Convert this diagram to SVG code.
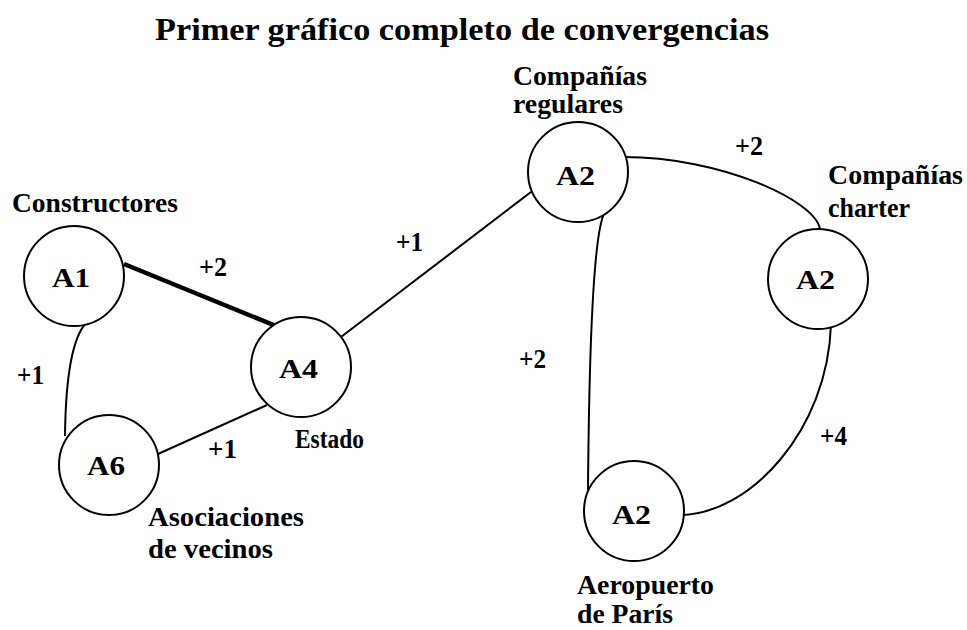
<svg xmlns="http://www.w3.org/2000/svg" width="967" height="630" viewBox="0 0 967 630">
<style>
  .t { font-family: "Liberation Serif", "Times New Roman", serif; font-weight: bold; font-size: 26.5px; fill: #000; }
  .title { font-family: "Liberation Serif", "Times New Roman", serif; font-weight: bold; font-size: 31px; fill: #000; }
  .node { fill: #fff; stroke: #000; stroke-width: 2; }
  .edge { fill: none; stroke: #000; stroke-width: 2; }
</style>
<rect width="967" height="630" fill="#fff"/>
<text class="title" x="155" y="40" textLength="614" lengthAdjust="spacingAndGlyphs">Primer gráfico completo de convergencias</text>
<g id="connectors">
  <line class="edge" x1="124" y1="264" x2="276" y2="326" style="stroke-width:4.5"/>
  <path class="edge" d="M86,323 Q66,345 65,436"/>
  <line class="edge" x1="158" y1="454" x2="267" y2="405"/>
  <line class="edge" x1="341" y1="337" x2="531" y2="192"/>
  <path class="edge" d="M624,157 C720,157 815,200 820,229"/>
  <path class="edge" d="M605,212 Q590,235 588,490"/>
  <path class="edge" d="M831,324 C828,430 750,515 679,515"/>
  <text class="t" x="199" y="276" textLength="28" lengthAdjust="spacingAndGlyphs">+2</text>
  <text class="t" x="17" y="384" textLength="27" lengthAdjust="spacingAndGlyphs">+1</text>
  <text class="t" x="208" y="458" textLength="29" lengthAdjust="spacingAndGlyphs">+1</text>
  <text class="t" x="396" y="251" textLength="27" lengthAdjust="spacingAndGlyphs">+1</text>
  <text class="t" x="735" y="155" textLength="28" lengthAdjust="spacingAndGlyphs">+2</text>
  <text class="t" x="519" y="368" textLength="27" lengthAdjust="spacingAndGlyphs">+2</text>
  <text class="t" x="820" y="445" textLength="27" lengthAdjust="spacingAndGlyphs">+4</text>
</g>
<g id="A1">
  <circle class="node" cx="74" cy="276" r="50"/>
  <text class="t" x="52" y="287" textLength="38" lengthAdjust="spacingAndGlyphs">A1</text>
  <text class="t" x="12" y="212" textLength="166" lengthAdjust="spacingAndGlyphs">Constructores</text>
</g>
<g id="A4">
  <circle class="node" cx="301" cy="367" r="50"/>
  <text class="t" x="279" y="378" textLength="39" lengthAdjust="spacingAndGlyphs">A4</text>
  <text class="t" x="295" y="448" textLength="69" lengthAdjust="spacingAndGlyphs">Estado</text>
</g>
<g id="A6">
  <circle class="node" cx="109" cy="465" r="50"/>
  <text class="t" x="87" y="475" textLength="38" lengthAdjust="spacingAndGlyphs">A6</text>
  <text class="t" x="148" y="526" textLength="156" lengthAdjust="spacingAndGlyphs">Asociaciones</text>
  <text class="t" x="148" y="558" textLength="125" lengthAdjust="spacingAndGlyphs">de vecinos</text>
</g>
<g id="A2-regulares">
  <circle class="node" cx="578" cy="172" r="50"/>
  <text class="t" x="556" y="185" textLength="39" lengthAdjust="spacingAndGlyphs">A2</text>
  <text class="t" x="513" y="85" textLength="134" lengthAdjust="spacingAndGlyphs">Compañías</text>
  <text class="t" x="513" y="113" textLength="110" lengthAdjust="spacingAndGlyphs">regulares</text>
</g>
<g id="A2-charter">
  <circle class="node" cx="818" cy="279" r="50"/>
  <text class="t" x="796" y="289" textLength="39" lengthAdjust="spacingAndGlyphs">A2</text>
  <text class="t" x="828" y="184" textLength="135" lengthAdjust="spacingAndGlyphs">Compañías</text>
  <text class="t" x="828" y="217" textLength="82" lengthAdjust="spacingAndGlyphs">charter</text>
</g>
<g id="A2-aeropuerto">
  <circle class="node" cx="634" cy="511" r="50"/>
  <text class="t" x="612" y="524" textLength="39" lengthAdjust="spacingAndGlyphs">A2</text>
  <text class="t" x="577" y="594" textLength="137" lengthAdjust="spacingAndGlyphs">Aeropuerto</text>
  <text class="t" x="577" y="623" textLength="96" lengthAdjust="spacingAndGlyphs">de París</text>
</g>
</svg>
